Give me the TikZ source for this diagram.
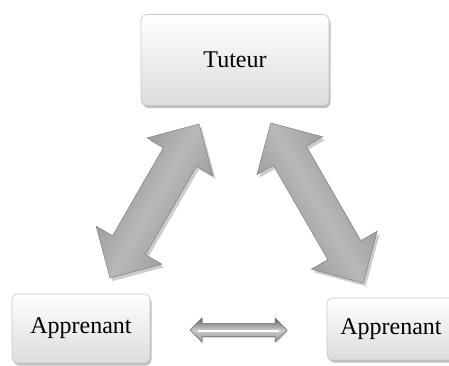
\documentclass[tikz,border=0pt]{standalone}
\usepackage{fontspec}
\setmainfont{Liberation Serif}
\usetikzlibrary{shadows}
\definecolor{boxedge}{HTML}{C8C8C8}
\definecolor{boxbot}{HTML}{DCDCDC}
\definecolor{arrdark}{HTML}{8C8C8C}
\definecolor{arrmid}{HTML}{B8B8B8}
\tikzset{
  actor/.style={rectangle, rounded corners=6pt, draw=boxedge, line width=0.6pt,
    top color=white, bottom color=boxbot, inner sep=0pt,
    font=\fontsize{24}{28}\selectfont,
    drop shadow={shadow xshift=1.5pt, shadow yshift=-2.5pt, opacity=0.25, fill=black}},
  bigarrow/.style={draw=arrdark!85!black, line width=0.4pt, top color=arrdark, bottom color=arrdark, middle color=arrmid,
    drop shadow={shadow xshift=2.5pt, shadow yshift=-3pt, opacity=0.2, fill=black}},
  smallarrow/.style={draw=black!60, line width=0.5pt, top color=black!62, bottom color=black!42, middle color=black!20,
    drop shadow={shadow xshift=1pt, shadow yshift=-1.5pt, opacity=0.15, fill=black}},
  highlight/.style={draw=white, line width=1.6pt, line cap=round}
}
\newcommand{\dblarrow}[4]{% L, head length, head half width, shaft half width
  (-#1/2,0) -- (-#1/2+#2,#3) -- (-#1/2+#2,#4) -- (#1/2-#2,#4) -- (#1/2-#2,#3) -- (#1/2,0)
  -- (#1/2-#2,-#3) -- (#1/2-#2,-#4) -- (-#1/2+#2,-#4) -- (-#1/2+#2,-#3) -- cycle}
\begin{document}
\begin{tikzpicture}[x=1pt,y=-1pt]
\useasboundingbox (0,0) rectangle (449,365);
\node[actor, minimum width=188pt, minimum height=91pt] (tuteur) at (235,60) {Tuteur};
\node[actor, minimum width=138pt, minimum height=69pt] (app1) at (81,328.5) {Apprenant};
\node[actor, minimum width=128pt, minimum height=62pt] (app2) at (391,329) {Apprenant};
% left big double arrow
\begin{scope}[shift={(154.5,201)}, rotate=60]
  \path[bigarrow, shading angle=60] \dblarrow{178}{38}{38}{19};
\end{scope}
% right big double arrow
\begin{scope}[shift={(317,203)}, rotate=120]
  \path[bigarrow, shading angle=120] \dblarrow{185}{38}{38}{19};
\end{scope}
% small horizontal double arrow
\begin{scope}[shift={(238.5,330)}]
  \path[smallarrow] \dblarrow{97}{12}{12}{6.5};
  \draw[highlight] (-40,1) -- (40,1);
\end{scope}
\end{tikzpicture}
\end{document}
